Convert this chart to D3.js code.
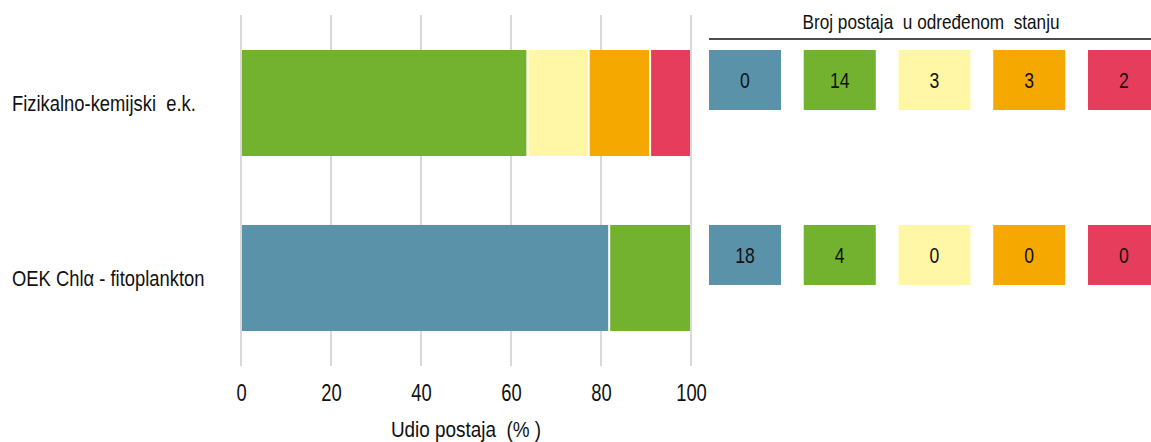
<!DOCTYPE html>
<html><head><meta charset="utf-8">
<script src="https://cdn.jsdelivr.net/npm/d3@7"></script>
<style>body{margin:0;background:#fff}svg{display:block}text{font-family:"Liberation Sans Narrow","Arial Narrow","Liberation Sans",sans-serif;fill:#111;white-space:pre}</style>
</head><body><svg id="c" width="1151" height="442"></svg>
<script>
const categories = ["Fizikalno-kemijski  e.k.", "OEK Chlα - fitoplankton"];
const states = ["vrlo dobro", "dobro", "umjereno", "loše", "vrlo loše"];
const colors = ["#5A93A9", "#72B22E", "#FFF7A6", "#F5A800", "#E63D5C"];
const counts = [
  [0, 14, 3, 3, 2],
  [18, 4, 0, 0, 0]
];
const xTicks = [0, 20, 40, 60, 80, 100];
const xTitle = "Udio postaja  (% )";
const boxTitle = "Broj postaja  u određenom  stanju";

const SX = 0.84; // horizontal condensing of text
const svg = d3.select("#c");
const x = d3.scaleLinear().domain([0, 100]).range([241, 691]);
const y = d3.scaleBand().domain(categories).range([50, 331]).paddingInner(0.394).paddingOuter(0);

function label(sel, tx, ty, size, sx) {
  return sel.attr("x", 0).attr("y", 0)
    .attr("transform", (d, i) => `translate(${typeof tx === "function" ? tx(d, i) : tx},${typeof ty === "function" ? ty(d, i) : ty}) scale(${sx || SX},1)`)
    .attr("font-size", size);
}

// gridlines
svg.append("g").selectAll("line").data(xTicks).join("line")
  .attr("x1", d => x(d)).attr("x2", d => x(d))
  .attr("y1", 15).attr("y2", 366)
  .attr("stroke", "#d9d9d9").attr("stroke-width", 2);

// stacked bars
const rows = counts.map((c, i) => {
  const total = d3.sum(c);
  const o = {cat: categories[i]};
  states.forEach((s, j) => o[s] = c[j] / total * 100);
  return o;
});
const stack = d3.stack().keys(states)(rows);
svg.append("g").selectAll("g").data(stack).join("g")
  .attr("fill", (d, i) => colors[i])
  .selectAll("rect").data(d => d).join("rect")
  .filter(d => d[1] - d[0] > 0)
  .attr("x", d => x(d[0]) + 1)
  .attr("width", d => Math.max(0, x(d[1]) - x(d[0]) - 2))
  .attr("y", d => y(d.data.cat))
  .attr("height", y.bandwidth());

// x tick labels
const axis = d3.axisBottom(x).tickValues(xTicks).tickSize(0).tickPadding(0);
const ag = svg.append("g").attr("transform", "translate(0,401)").call(axis);
ag.select(".domain").remove();
ag.attr("font-family", null).attr("font-size", null);
ag.selectAll("text").attr("y", 0).attr("dy", 0).attr("font-size", 23)
  .attr("transform", `scale(${SX - 0.04},1)`);

label(svg.append("text").attr("text-anchor", "middle").text(xTitle), x(50), 437, 22, 0.86);

// category labels
label(svg.append("g").selectAll("text").data(categories).join("text")
  .attr("dy", "0.35em").text(d => d), 12, d => y(d) + y.bandwidth() / 2, 21.5, 0.855);

// count boxes
const bx = d3.scaleBand().domain(d3.range(states.length)).range([709, 1160]).paddingInner(0.24).paddingOuter(0);
label(svg.append("text").attr("text-anchor", "middle").text(boxTitle), 931, 29, 20, 0.86);
svg.append("line").attr("x1", 709).attr("x2", 1151).attr("y1", 39).attr("y2", 39)
  .attr("stroke", "#111").attr("stroke-width", 1.5);

counts.forEach((c, i) => {
  const top = y(categories[i]);
  const g = svg.append("g");
  g.selectAll("rect").data(c).join("rect")
    .attr("x", (d, j) => bx(j)).attr("width", bx.bandwidth())
    .attr("y", top).attr("height", 60)
    .attr("fill", (d, j) => colors[j]);
  label(g.selectAll("text").data(c).join("text")
    .attr("dy", "0.35em").attr("text-anchor", "middle").text(d => d),
    (d, j) => bx(j) + bx.bandwidth() / 2, top + 30, 22, 0.8);
});
</script></body></html>
